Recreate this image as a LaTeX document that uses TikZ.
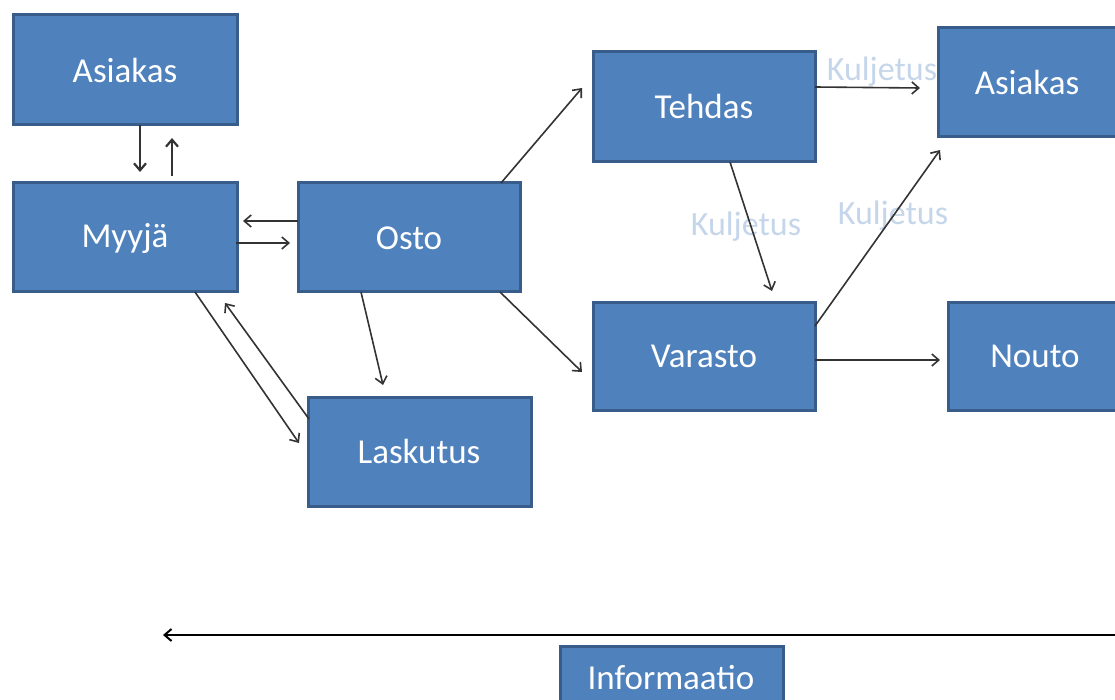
\documentclass[tikz,border=0pt]{standalone}
\usepackage{fontspec}
\setmainfont{Carlito}
\usetikzlibrary{arrows.meta}
\definecolor{boxfill}{HTML}{4F81BD}
\definecolor{boxline}{HTML}{385D8A}
\definecolor{lbl}{HTML}{C6D6EA}
\definecolor{arr}{HTML}{333333}
\begin{document}
\begin{tikzpicture}[x=1pt,y=-1pt,
  blk/.style={draw=boxline,line width=3pt,fill=boxfill},
  txt/.style={text=white,font=\fontsize{35}{40}\selectfont},
  lab/.style={text=lbl,font=\fontsize{34}{40}\selectfont,inner sep=0pt},
  con/.style={draw=arr,line width=1.6pt,-{Straight Barb[length=7pt,width=12pt]}}]
\useasboundingbox (0,0) rectangle (1115,700);
\begin{scope}
\clip (0,0) rectangle (1115,700);
\path[blk] (13,15) rectangle (237,125);
\node[txt] (a1) at (125,70) {Asiakas};
\path[blk] (13,183) rectangle (237,292);
\node[txt] (my) at (125,238) {Myyjä};
\path[blk] (298,183) rectangle (520,292);
\node[txt] (os) at (409,238) {Osto};
\path[blk] (308,397) rectangle (531,506);
\node[txt] (la) at (419,451) {Laskutus};
\path[blk] (593,52) rectangle (815,162);
\node[txt] (te) at (704,106) {Tehdas};
\path[blk] (938,28) rectangle (1118,137);
\node[txt] (a2) at (1027,82) {Asiakas};
\path[blk] (593,302) rectangle (815,410);
\node[txt] (va) at (704,356) {Varasto};
\path[blk] (948,302) rectangle (1124,410);
\node[txt] (no) at (1035,356) {Nouto};
\path[blk] (560,646) rectangle (783,715);
\node[txt] (in) at (671,678) {Informaatio};
\end{scope}
% labels
\node[lab] (k1) at (882,72) {Kuljetus};
\node[lab] (k2) at (746,227) {Kuljetus};
\node[lab] (k3) at (893,216) {Kuljetus};
% connectors
\coordinate (p1) at (140,125); \coordinate (q1) at (140,172);
\coordinate (p2) at (172,176); \coordinate (q2) at (172,138);
\coordinate (p3) at (298,221); \coordinate (q3) at (243,221);
\coordinate (p4) at (236,243); \coordinate (q4) at (290,243);
\coordinate (p5) at (195,292); \coordinate (q5) at (299,443);
\coordinate (p6) at (309,419); \coordinate (q6) at (225,303);
\coordinate (p7) at (361,292); \coordinate (q7) at (383,385);
\coordinate (p8) at (500,292); \coordinate (q8) at (582,372);
\coordinate (p9) at (501,183); \coordinate (q9) at (582,88);
\coordinate (p10) at (815,87); \coordinate (q10) at (920,88);
\coordinate (p11) at (730,162); \coordinate (q11) at (772,291);
\coordinate (p12) at (815,326); \coordinate (q12) at (940,150);
\coordinate (p13) at (815,360); \coordinate (q13) at (940,360);
\coordinate (p14) at (1116,635); \coordinate (q14) at (163,635);
\draw[con,line width=2.2pt] (p1) -- (q1);
\draw[con,line width=2.2pt] (p2) -- (q2);
\foreach \i in {3,...,13} {\draw[con] (p\i) -- (q\i);}
\draw[con,line width=2pt,draw=black] (p14) -- (q14);
\end{tikzpicture}
\end{document}
